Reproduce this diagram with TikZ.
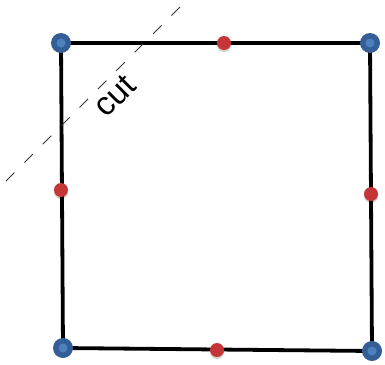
\documentclass[tikz,border=0pt]{standalone}
\usepackage{fontspec}
\setmainfont{Liberation Sans}
\definecolor{esquina}{RGB}{52,94,150}
\definecolor{esquinaluz}{RGB}{78,128,190}
\definecolor{punto}{RGB}{196,54,56}

\begin{document}
\begin{tikzpicture}[x=1pt, y=-1pt,
    lado/.style={line width=3.8pt, black},
    corte/.style={line width=0.9pt, black!80, dash pattern=on 12pt off 14pt},
    vertice/.style={circle, fill=esquina, minimum size=20pt, inner sep=0pt,
                    path picture={\fill[esquinaluz] (path picture bounding box.center) circle (4.5pt);}},
    medio/.style={circle, fill=punto, minimum size=14pt, inner sep=0pt,
                  preaction={fill=black, opacity=0.18, transform canvas={yshift=-2pt}}}]
  \useasboundingbox (0,0) rectangle (385,364);
  % esquinas del cuadrado
  \coordinate (a) at (61,43);
  \coordinate (b) at (370,43);
  \coordinate (c) at (372,351);
  \coordinate (d) at (63,348);
  \draw[lado] (a) -- (b) -- (c) -- (d) -- cycle;
  % linea de corte
  \coordinate (cini) at (6,181);
  \coordinate (cfin) at (181,6);
  \draw[corte] (cini) -- (cfin);
  \node[rotate=45, font=\fontsize{33}{35}\selectfont] (etiqueta) at (115,96) {cut};
  % puntos
  \foreach \p in {a,b,c,d} \node[vertice] (v\p) at (\p) {};
  \node[medio] (arriba) at (224,43) {};
  \node[medio] (izq) at (61,190) {};
  \node[medio] (der) at (371,194) {};
  \node[medio] (abajo) at (217,350) {};
\end{tikzpicture}
\end{document}
